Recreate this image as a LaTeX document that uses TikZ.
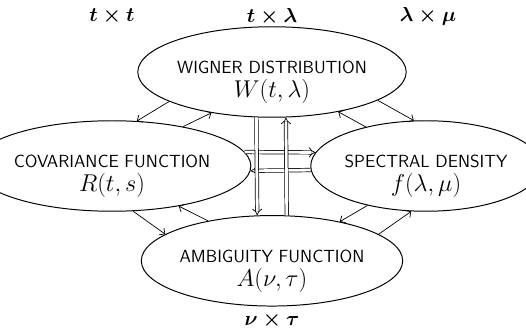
\documentclass[tikz,border=0pt]{standalone}
\usepackage{amsmath, amssymb}
\usepackage{tikz}
\usetikzlibrary{shapes.geometric, arrows.meta}

\begin{document}
\begin{tikzpicture}[>={Straight Barb[length=3pt,width=6pt]}, line width=0.5pt,
  every node/.style={font=\sffamily},
  repr/.style={draw, ellipse, line width=0.7pt, minimum width=5cm, minimum height=2.12cm, inner sep=0pt, align=center},
  dbl/.style={double, double distance=2pt, line width=0.5pt, -{Implies[length=4pt]}},
  space/.style={font=\Large}]
  \useasboundingbox (0,0) rectangle (13.15,-8.2);
  \node[space] (tt) at (2.8,-0.42) {$\boldsymbol{t\times t}$};
  \node[space] (tl) at (6.8,-0.42) {$\boldsymbol{t\times\lambda}$};
  \node[space] (lm) at (10.7,-0.42) {$\boldsymbol{\lambda\times\mu}$};
  \node[repr] (W) at (6.8,-1.8) {\fontsize{12.5}{14}\selectfont\rule{0pt}{24pt}WIGNER DISTRIBUTION\\[3pt] \LARGE $W(t,\lambda)$};
  \node[repr] (C) at (2.8,-4.15) {\fontsize{12.5}{14}\selectfont\rule{0pt}{24pt}COVARIANCE FUNCTION\\[3pt] \LARGE $R(t,s)$};
  \node[repr] (S) at (10.65,-4.15) {\fontsize{12.5}{14}\selectfont\rule{0pt}{24pt}SPECTRAL DENSITY\\[3pt] \LARGE $f(\lambda,\mu)$};
  \node[repr] (A) at (6.8,-6.52) {\fontsize{12.5}{14}\selectfont\rule{0pt}{24pt}AMBIGUITY FUNCTION\\[3pt] \LARGE $A(\nu,\tau)$};
  \node[space] (nt) at (6.8,-8.0) {$\boldsymbol{\nu\times\tau}$};
  % single arrows round the square
  \draw[->] (W.196) -- (C.61);
  \draw[->] (C.29) -- (W.214);
  \draw[->] (S.147) -- (W.329);
  \draw[->] (W.345) -- (S.105);
  \draw[->] (C.295) -- (A.166);
  \draw[->] (A.148) -- (C.329);
  \draw[->] (S.214) -- (A.30);
  \draw[->] (A.14) -- (S.252);
  % double arrows across
  \draw[dbl] (C.6.5) -- (S.173.5);
  \draw[dbl] (S.182.6) -- (C.-2.6);
  \draw[dbl] (W.251.8) -- (A.108.2);
  \draw[dbl] (A.72.5) -- (W.287.5);
\end{tikzpicture}
\end{document}
